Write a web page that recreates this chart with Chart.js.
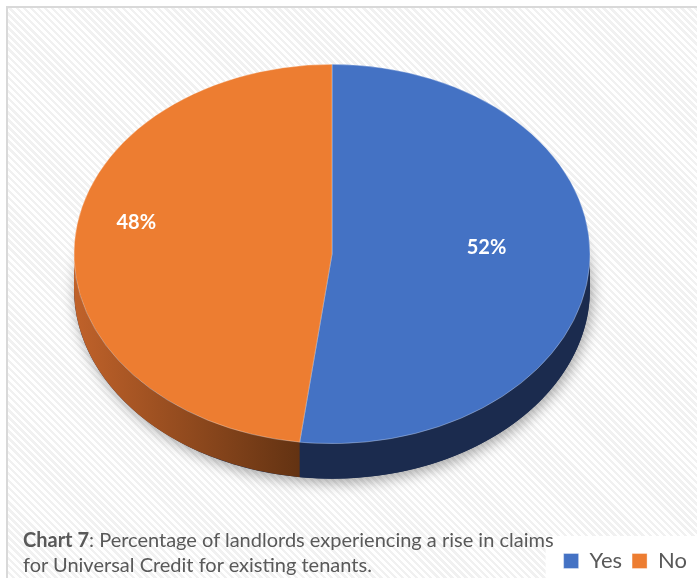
<!DOCTYPE html>
<html>
<head>
<meta charset="utf-8">
<script src="https://cdn.jsdelivr.net/npm/chart.js@4.4.0/dist/chart.umd.min.js"></script>
<style>
    html, body { margin: 0; padding: 0; background: #ffffff; overflow: hidden; }
    #wrap { position: relative; width: 697px; height: 578px; overflow: hidden; }
    #frame {
        position: absolute; left: 6px; top: 6px; width: 760px; height: 640px;
        border: 2px solid #d9d9d9;
        background: repeating-linear-gradient(45deg, #ffffff 0px, #ffffff 2.5px, #f1f1f1 2.5px, #f1f1f1 5px);
    }
    #myChart { position: absolute; left: 0; top: 0; }
    #caption {
        position: absolute; left: 23px; top: 527px;
        font-family: Lato, sans-serif; font-size: 20px; line-height: 25px; color: #595959;
    }
</style>
</head>
<body>
<div id="wrap">
    <div id="frame"></div>
    <!-- canvas runs a little past the bottom so the legend row sits lower -->
    <canvas id="myChart" width="697" height="582"></canvas>
    <div id="caption"><b>Chart 7</b>: Percentage of landlords experiencing a rise in claims<br>for Universal Credit for existing tenants.</div>
</div>
<script>
// data
const categories = ['Yes', 'No'];
const shares = [52, 48];

// look of the tilted pie
const TOP_COLOURS = ['#4472c4', '#ed7d31'];
const PIE_RADIUS = 258;
const CENTRE_X = 332;      // where the squashed pie sits
const CENTRE_Y = 254;
const TILT = 0.735;        // vertical squash of the top face
const DEPTH = 35;          // thickness of the side wall
const LABEL_RADIUS = [0.6, 0.76];
const LABEL_LIFT = [14, 22];

function sideFill(ctx, i, r) {
    if (i === 0) return '#1b2b4e';
    const g = ctx.createLinearGradient(CENTRE_X - r, 0, CENTRE_X - 20, 0);
    g.addColorStop(0, '#c0622a');
    g.addColorStop(1, '#5e3011');
    return g;
}

// draws the side wall + shadow, then squashes the canvas for the slice tops
const tiltPlugin = {
    id: 'tilt',
    beforeDatasetsDraw(chart) {
        const ctx = chart.ctx;
        const arcs = chart.getDatasetMeta(0).data;
        const r = arcs[0].outerRadius;
        const ry = r * TILT;

        ctx.save();
        // soft shadow under the pie
        ctx.save();
        ctx.shadowColor = 'rgba(0,0,0,0.35)';
        ctx.shadowBlur = 14;
        ctx.shadowOffsetX = 2;
        ctx.shadowOffsetY = 4;
        ctx.fillStyle = '#1b2b4e';
        ctx.beginPath();
        ctx.ellipse(CENTRE_X, CENTRE_Y + DEPTH, r, ry, 0, 0, Math.PI * 2);
        ctx.fill();
        ctx.restore();

        // front wall of each slice
        arcs.forEach((arc, i) => {
            const a1 = Math.max(arc.startAngle, 0);
            const a2 = Math.min(arc.endAngle, Math.PI);
            if (a2 <= a1) return;
            ctx.beginPath();
            ctx.ellipse(CENTRE_X, CENTRE_Y, r, ry, 0, a1, a2);
            ctx.ellipse(CENTRE_X, CENTRE_Y + DEPTH, r, ry, 0, a2, a1, true);
            ctx.closePath();
            ctx.fillStyle = sideFill(ctx, i, r);
            ctx.fill();
        });

        ctx.translate(CENTRE_X, CENTRE_Y);
        ctx.scale(1, TILT);
        ctx.translate(-arcs[0].x, -arcs[0].y);
    },
    afterDatasetsDraw(chart) {
        const ctx = chart.ctx;
        ctx.restore();

        // percentage labels on the tops
        const arcs = chart.getDatasetMeta(0).data;
        ctx.save();
        ctx.fillStyle = '#ffffff';
        ctx.font = 'bold 20px Lato, sans-serif';
        ctx.textAlign = 'center';
        ctx.textBaseline = 'middle';
        arcs.forEach((arc, i) => {
            const mid = (arc.startAngle + arc.endAngle) / 2;
            const rr = arc.outerRadius * LABEL_RADIUS[i];
            const x = CENTRE_X + Math.cos(mid) * rr;
            const y = CENTRE_Y + Math.sin(mid) * rr * TILT - LABEL_LIFT[i];
            ctx.fillText(shares[i] + '%', x, y);
        });
        ctx.restore();
    },
    // white box behind the legend
    beforeDraw(chart) {
        const lg = chart.legend;
        if (!lg || !lg.legendHitBoxes.length) return;
        const ctx = chart.ctx;
        const first = lg.legendHitBoxes[0];
        ctx.save();
        ctx.fillStyle = '#ffffff';
        ctx.fillRect(first.left - 18, first.top - 14, chart.width, chart.height);
        ctx.restore();
    }
};

const ctx = document.getElementById('myChart');

let myChart = new Chart(ctx, {
    type: 'pie',
    data: {
        labels: categories,
        datasets: [{
            data: shares,
            backgroundColor: TOP_COLOURS,
            borderColor: 'rgba(255,255,255,0.35)',
            borderWidth: 1,
            hoverOffset: 0,
            radius: PIE_RADIUS
        }]
    },
    options: {
        responsive: false,
        animation: false,
        events: [],
        layout: {
            padding: 0
        },
        plugins: {
            tooltip: { enabled: false },
            legend: {
                position: 'bottom',
                align: 'end',
                labels: {
                    boxWidth: 15,
                    boxHeight: 15,
                    padding: 10,
                    color: '#595959',
                    font: { family: 'Lato, sans-serif', size: 22 }
                }
            }
        }
    },
    plugins: [tiltPlugin]
});
</script>
</body>
</html>
